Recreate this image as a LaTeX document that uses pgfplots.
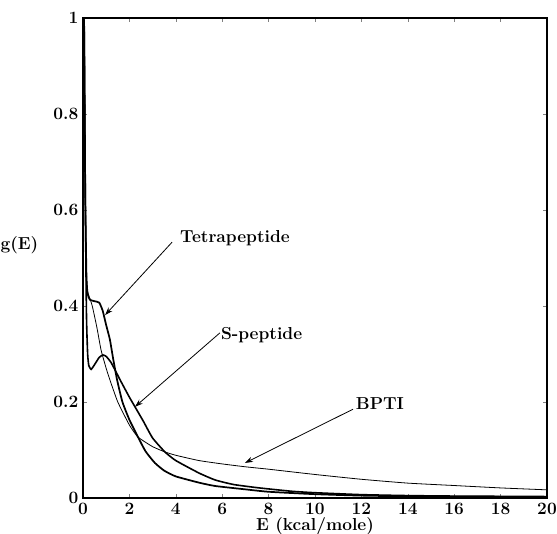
\documentclass[border=0pt]{standalone}
\usepackage{pgfplots}
\pgfplotsset{compat=1.18}
\usetikzlibrary{arrows.meta}
\begin{document}
\begin{tikzpicture}
\def\lfont{\fontsize{13}{15}\selectfont\bfseries}
\begin{axis}[
  scale only axis,
  width=348pt, height=360pt,
  xmin=0, xmax=20, ymin=0, ymax=1,
  xtick={0,2,...,20},
  ytick={0,0.2,0.4,0.6,0.8,1},
  yticklabels={0,0.2,0.4,0.6,0.8,1},
  tick align=inside,
  major tick length=3pt,
  /pgf/number format/assume math mode=true,
  tick label style={font=\lfont},
  axis line style={line width=0.9pt},
  xlabel={E (kcal/mole)},
  xlabel style={font=\lfont, at={(axis description cs:0.5,0)}, anchor=north, yshift=-11pt},
  ylabel={g(E)},
  ylabel style={font=\lfont, rotate=-90, at={(axis description cs:0,0.527)}, anchor=east, xshift=-30pt},
  clip=true,
]
% BPTI (thin)
\addplot[black, line width=0.6pt, smooth, tension=0.3] coordinates {
(0,1) (0.05,0.97) (0.1,0.62) (0.15,0.47) (0.2,0.43) (0.3,0.415) (0.4,0.4) (0.6,0.355) (0.78,0.308) (1.0,0.27) (1.16,0.246) (1.5,0.2) (2.0,0.152) (2.37,0.127) (3.0,0.107) (3.53,0.096) (4.0,0.089) (5.0,0.078) (6.0,0.071) (7.0,0.065) (8.0,0.06) (10,0.049) (12,0.039) (14,0.031) (16,0.026) (18,0.021) (20,0.017)
};
% Tetrapeptide (thick)
\addplot[black, line width=1.3pt, smooth, tension=0.3] coordinates {
(0,1) (0.05,0.98) (0.1,0.62) (0.15,0.46) (0.2,0.425) (0.3,0.413) (0.5,0.41) (0.7,0.407) (0.85,0.39) (1.0,0.36) (1.16,0.33) (1.3,0.29) (1.47,0.246) (1.7,0.2) (2.0,0.163) (2.37,0.127) (2.7,0.097) (3.1,0.073) (3.5,0.057) (4,0.045) (5,0.032) (5.7,0.025) (7,0.018) (8,0.013) (10,0.008) (12,0.005) (15,0.003) (20,0.002)
};
% S-peptide (thick)
\addplot[black, line width=1.2pt, smooth, tension=0.3] coordinates {
(0,1) (0.05,0.98) (0.1,0.62) (0.15,0.38) (0.2,0.3) (0.25,0.276) (0.35,0.268) (0.5,0.278) (0.7,0.293) (0.86,0.298) (1.0,0.295) (1.2,0.283) (1.4,0.265) (1.6,0.246) (2.0,0.21) (2.24,0.19) (2.6,0.16) (3.0,0.125) (3.53,0.096) (4.0,0.078) (5.0,0.052) (5.7,0.0375) (6.5,0.028) (7.6,0.021) (9,0.014) (10,0.011) (12,0.007) (14,0.005) (16,0.004) (20,0.003)
};
\node[font=\lfont] at (axis cs:6.55,0.542) {Tetrapeptide};
\draw[-{Stealth[length=6pt,width=4pt]}, line width=0.6pt] (axis cs:3.84,0.533) -- (axis cs:0.95,0.381);
\node[font=\lfont] at (axis cs:7.7,0.34) {S-peptide};
\draw[-{Stealth[length=6pt,width=4pt]}, line width=0.6pt] (axis cs:5.9,0.344) -- (axis cs:2.24,0.19);
\node[font=\lfont] at (axis cs:12.8,0.196) {BPTI};
\draw[-{Stealth[length=6pt,width=4pt]}, line width=0.6pt] (axis cs:11.64,0.185) -- (axis cs:6.98,0.073);
\end{axis}
\pgfresetboundingbox
\path[use as bounding box] ([xshift=-62.25pt,yshift=-26.25pt]current axis.south west) rectangle ++(417.75pt,399.75pt);
\end{tikzpicture}
\end{document}
